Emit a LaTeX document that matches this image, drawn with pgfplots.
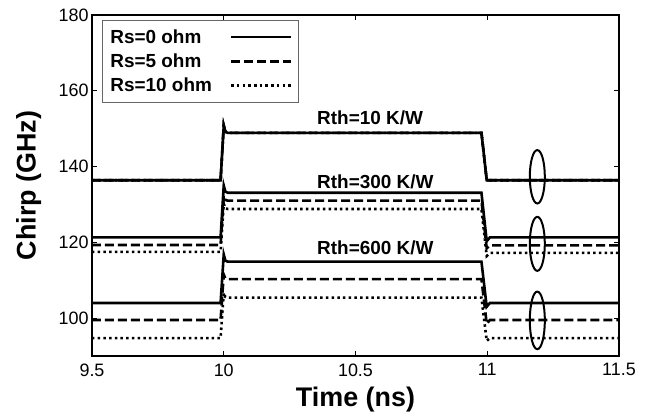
\documentclass[border=0pt]{standalone}
\usepackage{fontspec}
\setmainfont{Liberation Sans}
\usepackage{pgfplots}
\pgfplotsset{compat=1.18}
\begin{document}
\begin{tikzpicture}
\path[use as bounding box] (-92bp,-64bp) rectangle (562bp,356bp);
\tikzset{
  sol/.style={black, line width=2.6bp, solid},
  das/.style={black, line width=2.6bp, dash pattern=on 9bp off 4bp},
  dot/.style={black, line width=2.6bp, dash pattern=on 2.5bp off 3.2bp},
}
\begin{axis}[
  at={(0,0)}, anchor=south west,
  scale only axis, width=527bp, height=341bp,
  xmin=9.5, xmax=11.5, ymin=90, ymax=180,
  xtick={9.5,10,10.5,11,11.5},
  ytick={100,120,140,160,180},
  tick align=inside, tick pos=both,
  major tick length=5bp,
  axis line style={line width=1.3bp},
  every tick/.style={line width=1bp, black},
  /pgf/number format/assume math mode=true,
  ticklabel style={font=\fontsize{18}{20}\selectfont},
  xticklabel style={yshift=-4bp},
  xlabel={Time (ns)}, ylabel={Chirp (GHz)},
  label style={font=\fontsize{27}{30}\selectfont\bfseries},
  xlabel style={at={(axis description cs:0.5,-0.129)}, anchor=center},
  ylabel style={at={(axis description cs:-0.12,0.5)}, anchor=center},
  legend style={at={(axis description cs:0.019,0.985)}, anchor=north west,
    draw=black!60, line width=0.8bp,
    font=\fontsize{19}{22}\selectfont\bfseries,
    inner xsep=6bp, inner ysep=7bp, row sep=5bp,
    /tikz/column 1/.style={column sep=16bp}},
  legend cell align=left,
  legend plot pos=right,
  legend image code/.code={\draw[#1] (0bp,0bp) -- (60bp,0bp);},
]
\addlegendimage{sol}\addlegendentry{Rs=0 ohm}
\addlegendimage{das}\addlegendentry{Rs=5 ohm}
\addlegendimage{dot}\addlegendentry{Rs=10 ohm}

% Rth = 10 K/W (all Rs coincide)
\addplot[dot, forget plot] coordinates {(9.5,136.4)(9.988,136.4)(10.0,150.8)(10.006,149.2)(10.015,148.9)(10.978,148.9)(10.998,136.4)(11.5,136.4)};
\addplot[das, forget plot] coordinates {(9.5,136.4)(9.988,136.4)(10.0,150.8)(10.006,149.2)(10.015,148.9)(10.978,148.9)(10.998,136.4)(11.5,136.4)};
\addplot[sol, forget plot] coordinates {(9.5,136.4)(9.988,136.4)(10.0,150.8)(10.006,149.2)(10.015,148.9)(10.978,148.9)(10.998,136.4)(11.5,136.4)};

% Rth = 300 K/W
\addplot[sol, forget plot] coordinates {(9.5,121.3)(9.988,121.3)(10.0,135.0)(10.006,133.4)(10.015,133.1)(10.978,133.1)(10.998,120.3)(11.01,121.3)(11.5,121.3)};
\addplot[das, forget plot] coordinates {(9.5,119.3)(9.988,119.3)(10.0,132.4)(10.006,131.2)(10.015,131.0)(10.978,131.0)(10.998,118.4)(11.01,119.2)(11.5,119.2)};
\addplot[dot, forget plot] coordinates {(9.5,117.5)(9.988,117.5)(10.0,130.2)(10.006,129.0)(10.015,128.8)(10.978,128.8)(10.998,116.4)(11.01,117.2)(11.5,117.2)};

% Rth = 600 K/W
\addplot[sol, forget plot] coordinates {(9.5,104.0)(9.988,104.0)(10.0,116.8)(10.006,115.2)(10.015,114.9)(10.978,114.9)(10.998,103.0)(11.01,104.0)(11.5,104.0)};
\addplot[das, forget plot] coordinates {(9.5,99.5)(9.988,99.5)(10.0,111.5)(10.006,110.5)(10.015,110.3)(10.978,110.3)(10.998,98.5)(11.01,99.5)(11.5,99.5)};
\addplot[dot, forget plot] coordinates {(9.5,94.7)(9.988,94.7)(10.0,106.7)(10.006,105.6)(10.015,105.4)(10.978,105.4)(10.998,94.0)(11.01,94.7)(11.5,94.7)};

\draw[line width=2bp] (axis cs:11.19,137.3) ellipse [x radius=7.5bp, y radius=26.7bp];
\draw[line width=2bp] (axis cs:11.19,119.6) ellipse [x radius=7.5bp, y radius=27bp];
\draw[line width=2bp] (axis cs:11.19,99.4) ellipse [x radius=7.5bp, y radius=28.8bp];

\node[anchor=west, font=\fontsize{19}{22}\selectfont\bfseries, inner sep=0pt] at (axis cs:10.354,152.8) {Rth=10 K/W};
\node[anchor=west, font=\fontsize{19}{22}\selectfont\bfseries, inner sep=0pt] at (axis cs:10.354,135.9) {Rth=300 K/W};
\node[anchor=west, font=\fontsize{19}{22}\selectfont\bfseries, inner sep=0pt] at (axis cs:10.354,118.5) {Rth=600 K/W};
\end{axis}
\end{tikzpicture}
\end{document}
